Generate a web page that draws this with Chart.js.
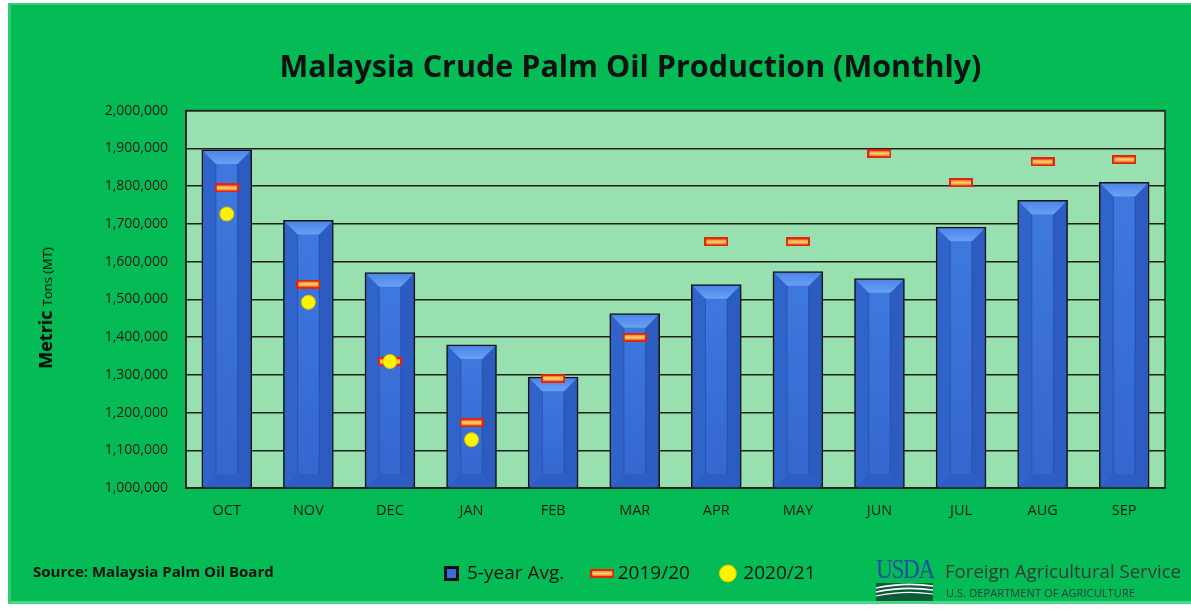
<!DOCTYPE html>
<html>
<head>
<meta charset="utf-8">
<script src="https://cdn.jsdelivr.net/npm/chart.js@4"></script>
<style>
  html, body { margin: 0; padding: 0; background: #fff; }
  body { width: 1191px; height: 609px; position: relative; overflow: hidden; font-family: "Open Sans", sans-serif; }
  #frame { position: absolute; left: 8px; top: 3px; width: 1183px; height: 601px; background: #05BB55;
    border-left: 3px solid #2ccb6c; border-top: 2px solid #33cf72; border-bottom: 3px solid #47d683; box-sizing: border-box; }
  #chart { position: absolute; left: 0; top: 0; }
  .ytitle { position: absolute; left: 45px; top: 308px; transform: translate(-50%, -50%) rotate(-90deg);
    white-space: nowrap; color: #000; }
  .ytitle b { font-size: 18px; }
  .ytitle span { font-size: 13px; }
  .source { position: absolute; left: 33px; top: 561px; font-size: 15px; font-weight: bold; color: #111; }
  .usda { position: absolute; left: 876px; top: 557px; width: 58px; }
  .usda .word { font-family: "Liberation Serif", serif; font-size: 27px; color: #1d4fa0; line-height: 24px;
    letter-spacing: -1.5px; transform: scaleX(0.86); transform-origin: left; }
  .usda .box { margin-top: 2px; width: 57px; height: 18px; background: #0d5a3b; position: relative; overflow: hidden; }
  .fas { position: absolute; left: 945px; top: 558px; font-size: 18.6px; color: #2e3a35; white-space: nowrap; }
  .dept { position: absolute; left: 946px; top: 585px; font-size: 11px; color: #2e3a35; white-space: nowrap; letter-spacing: 0.1px; }
</style>
</head>
<body>
<div id="frame"></div>
<canvas id="chart" width="1191" height="609"></canvas>
<div class="ytitle"><b>Metric</b> <span>Tons (MT)</span></div>
<div class="source">Source: Malaysia Palm Oil Board</div>
<div class="usda">
  <div class="word">USDA</div>
  <div class="box">
    <svg width="57" height="18" viewBox="0 0 57 18">
      <path d="M0 5 Q28 -1 57 3" stroke="#fff" stroke-width="1.6" fill="none"/>
      <path d="M0 9 Q28 3 57 7" stroke="#fff" stroke-width="1.6" fill="none"/>
      <path d="M0 13 Q28 7 57 11" stroke="#fff" stroke-width="1.2" fill="none"/>
    </svg>
  </div>
</div>
<div class="fas">Foreign Agricultural Service</div>
<div class="dept">U.S. DEPARTMENT OF AGRICULTURE</div>
<script>
const months = ["OCT", "NOV", "DEC", "JAN", "FEB", "MAR", "APR", "MAY", "JUN", "JUL", "AUG", "SEP"];

const fiveYearAvg = [
  1897000, 1710000, 1572000, 1380000, 1295000, 1463000,
  1540000, 1574000, 1556000, 1692000, 1763000, 1811000,
];

const mpob2019 = [
  1795000, 1540000, 1335000, 1173000, 1290000, 1399000,
  1652000, 1652000, 1886000, 1809000, 1864000, 1870000,
];

const mpob2020 = [1726000, 1492000, 1335000, 1128000, null, null, null, null, null, null, null, null];

const yMin = 1000000;
const yMax = 2000000;
const yStep = 100000;

// little red/orange dash used as point marker for 2019/20
const dash = document.createElement("canvas");
dash.width = 24;
dash.height = 9;
(() => {
  const c = dash.getContext("2d");
  c.fillStyle = "#e0260f";
  c.fillRect(0, 0, 24, 9);
  const g = c.createLinearGradient(0, 2, 0, 7);
  g.addColorStop(0, "#f0883a");
  g.addColorStop(0.5, "#fbd36a");
  g.addColorStop(1, "#ee7a2c");
  c.fillStyle = g;
  c.fillRect(2, 2, 20, 5);
})();

const plotBg = {
  id: "plotBg",
  beforeDraw(chart) {
    const { ctx, chartArea: a } = chart;
    ctx.save();
    ctx.fillStyle = "#99e0b0";
    ctx.fillRect(a.left, a.top, a.right - a.left, a.bottom - a.top);
    ctx.restore();
  },
  afterDraw(chart) {
    const { ctx, chartArea: a } = chart;
    ctx.save();
    ctx.strokeStyle = "#1e1e1e";
    ctx.lineWidth = 1.5;
    ctx.strokeRect(a.left, a.top, a.right - a.left, a.bottom - a.top);
    ctx.restore();
  },
};

// bevelled look for the blue bars
const bevel = {
  id: "bevel",
  afterDatasetDraw(chart, args) {
    if (args.index !== 0) return;
    const { ctx, chartArea: a } = chart;
    ctx.save();
    ctx.beginPath();
    ctx.rect(a.left, a.top, a.right - a.left, a.bottom - a.top);
    ctx.clip();
    args.meta.data.forEach((bar) => {
      const L = bar.x - bar.width / 2 + 1.5;
      const R = bar.x + bar.width / 2 - 1.5;
      const T = bar.y + 1.5;
      const B = Math.min(bar.base, a.bottom) - 1;
      const s = 13;
      const poly = (pts, fill) => {
        ctx.beginPath();
        ctx.moveTo(pts[0][0], pts[0][1]);
        pts.slice(1).forEach((p) => ctx.lineTo(p[0], p[1]));
        ctx.closePath();
        ctx.fillStyle = fill;
        ctx.fill();
      };
      const mid = ctx.createLinearGradient(0, T, 0, B);
      mid.addColorStop(0, "#3f79e0");
      mid.addColorStop(1, "#3466cf");
      poly([[L + s, T + s], [R - s, T + s], [R - s, B - s], [L + s, B - s]], mid);
      poly([[L, T], [L + s, T + s], [L + s, B - s], [L, B]], "#3064cb");
      poly([[R, T], [R - s, T + s], [R - s, B - s], [R, B]], "#2c5cc0");
      const top = ctx.createLinearGradient(0, T, 0, T + s);
      top.addColorStop(0, "#4a86ea");
      top.addColorStop(1, "#6aa0f2");
      poly([[L, T], [R, T], [R - s, T + s], [L + s, T + s]], top);
      poly([[L, B], [R, B], [R - s, B - s], [L + s, B - s]], "#2d5ec4");
      ctx.strokeStyle = "rgba(20,50,120,0.35)";
      ctx.lineWidth = 1;
      ctx.beginPath();
      ctx.moveTo(L + s, T + s);
      ctx.lineTo(L + s, B - s);
      ctx.moveTo(R - s, T + s);
      ctx.lineTo(R - s, B - s);
      ctx.stroke();
    });
    ctx.restore();
  },
};

const ctx = document.getElementById("chart").getContext("2d");

new Chart(ctx, {
  type: "bar",
  data: {
    labels: months,
    datasets: [
      {
        label: "5-year Avg.",
        data: fiveYearAvg,
        backgroundColor: "#3a6fd8",
        borderColor: "#111",
        borderWidth: 3,
        borderSkipped: false,
        barPercentage: 0.62,
        categoryPercentage: 1,
        pointStyle: "rect",
        order: 3,
      },
      {
        label: "2019/20",
        type: "line",
        data: mpob2019,
        showLine: false,
        pointStyle: dash,
        pointRadius: 6,
        order: 2,
      },
      {
        label: "2020/21",
        type: "line",
        data: mpob2020,
        showLine: false,
        pointStyle: "circle",
        pointRadius: 7,
        backgroundColor: "#fff200",
        borderColor: "#d8c800",
        borderWidth: 1,
        order: 1,
      },
    ],
  },
  options: {
    responsive: false,
    animation: false,
    events: [],
    layout: {
      padding: { left: 96, right: 26, top: 50, bottom: 16 },
    },
    plugins: {
      title: {
        display: true,
        text: "Malaysia Crude Palm Oil Production (Monthly)",
        color: "#111",
        font: { family: "Open Sans", size: 30.5, weight: "bold" },
        padding: { top: 0, bottom: 24 },
      },
      legend: {
        position: "bottom",
        labels: {
          usePointStyle: true,
          boxWidth: 12,
          boxHeight: 12,
          padding: 32,
          color: "#111",
          font: { family: "Open Sans", size: 19 },
          sort: (a, b) => a.datasetIndex - b.datasetIndex,
        },
      },
      tooltip: { enabled: false },
    },
    scales: {
      x: {
        grid: { display: false },
        border: { display: true, color: "#1e1e1e", width: 1.5 },
        ticks: {
          color: "#1a1a1a",
          padding: 6,
          font: { family: "Open Sans", size: 14.5 },
        },
        afterFit(scale) {
          scale.height = 44;
        },
      },
      y: {
        min: yMin,
        max: yMax,
        grid: { color: "#1e1e1e", lineWidth: 1.5, drawTicks: false },
        border: { display: true, color: "#1e1e1e", width: 1.5 },
        ticks: {
          stepSize: yStep,
          color: "#1a1a1a",
          padding: 18,
          font: { family: "Open Sans", size: 14 },
          callback: (v) => v.toLocaleString("en-US"),
        },
        afterFit(scale) {
          scale.width = 90;
        },
      },
    },
  },
  plugins: [plotBg, bevel],
});
</script>
</body>
</html>
